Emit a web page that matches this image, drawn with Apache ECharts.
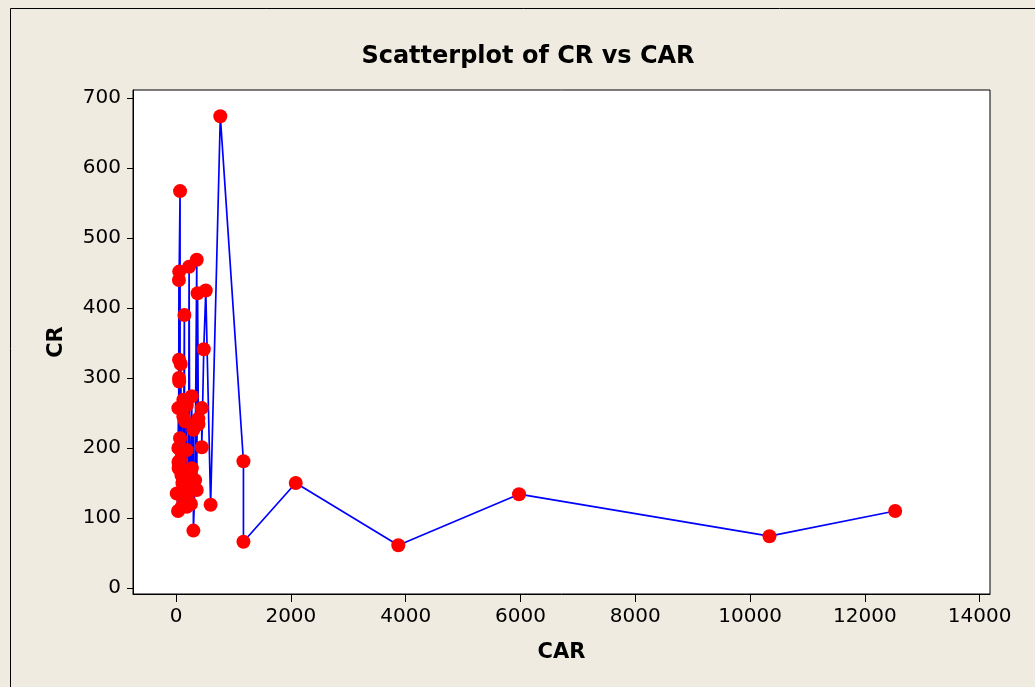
<!DOCTYPE html>
<html>
<head>
<meta charset="utf-8">
<script src="https://cdn.jsdelivr.net/npm/echarts@6/dist/echarts.min.js"></script>
<style>
html,body{margin:0;padding:0;background:#EFEBE1;}
#chart{width:1035px;height:687px;}
</style>
</head>
<body>
<div id="chart"></div>
<script>
// Data (sorted by CAR, as Minitab connects points)
const carValues = [12, 35, 40, 40, 42, 45, 50, 52, 52, 55, 55, 70, 70, 72, 75, 82, 95, 100, 110, 127, 127, 127, 145, 150, 157, 187, 187, 187, 200, 220, 227, 240, 260, 274, 274, 302, 302, 331, 361, 361, 375, 389, 389, 448, 448, 483, 518, 602, 771, 1174, 1174, 2085, 3872, 5975, 10338, 12528];
const crValues  = [135, 110, 257, 200, 180, 171, 440, 326, 300, 295, 452, 567, 214, 183, 197, 320, 161, 116, 150, 269, 245, 126, 390, 145, 238, 261, 197, 116, 130, 160, 459, 140, 120, 274, 171, 226, 82, 154, 469, 140, 421, 234, 242, 257, 201, 341, 425, 119, 674, 181, 66, 150, 61, 134, 74, 110];
const xTicks = [0, 2000, 4000, 6000, 8000, 10000, 12000, 14000];
const yTicks = [0, 100, 200, 300, 400, 500, 600, 700];
const titleText = 'Scatterplot of CR vs CAR';
const xName = 'CAR';
const yName = 'CR';

const points = carValues.map((c, i) => [c, crValues[i]]);
const FONT = 'DejaVu Sans';

const chart = echarts.init(document.getElementById('chart'), null, {renderer: 'canvas'});
chart.setOption({
  backgroundColor: '#EFEBE1',
  animation: false,
  title: {
    text: titleText,
    left: 523, top: 40, textAlign: 'center',
    textStyle: {fontFamily: FONT, fontWeight: 'bold', fontSize: 24, color: '#000'}
  },
  graphic: [{
    type: 'rect', left: 8, top: 6, z: -1,
    shape: {width: 1100, height: 800},
    style: {fill: 'none', stroke: '#000', lineWidth: 1}
  }],
  grid: {
    left: 133, top: 90, width: 857, height: 504,
    show: true, backgroundColor: '#fff', borderColor: '#000', borderWidth: 1
  },
  xAxis: {
    type: 'value', min: -750, max: 14180,
    name: xName, nameLocation: 'middle', nameGap: 48,
    nameTextStyle: {fontFamily: FONT, fontWeight: 'bold', fontSize: 21, color: '#000'},
    splitLine: {show: false},
    axisLine: {show: true, onZero: false, lineStyle: {color: '#000'}},
    axisTick: {show: true, length: 8, customValues: xTicks, lineStyle: {color: '#000'}},
    axisLabel: {customValues: xTicks, margin: 13, fontFamily: FONT, fontSize: 20, color: '#000',
                formatter: v => String(v)}
  },
  yAxis: {
    type: 'value', min: -8.6, max: 711.4,
    name: yName, nameLocation: 'middle', nameGap: 66, nameRotate: 90,
    nameTextStyle: {fontFamily: FONT, fontWeight: 'bold', fontSize: 21, color: '#000'},
    splitLine: {show: false},
    axisLine: {show: true, onZero: false, lineStyle: {color: '#000'}},
    axisTick: {show: true, length: 6, customValues: yTicks, lineStyle: {color: '#000'}},
    axisLabel: {customValues: yTicks, margin: 12, fontFamily: FONT, fontSize: 20, color: '#000',
                formatter: v => String(v)}
  },
  series: [{
    type: 'line',
    data: points,
    symbol: 'circle',
    symbolSize: 14,
    showAllSymbol: true,
    lineStyle: {color: '#0000FF', width: 1.7},
    itemStyle: {color: '#FF0000', borderWidth: 0},
    z: 3
  }]
});
</script>
</body>
</html>
